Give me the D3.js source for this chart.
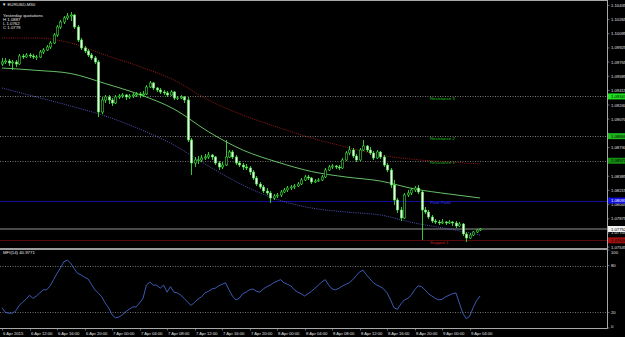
<!DOCTYPE html>
<html>
<head>
<meta charset="utf-8">
<script src="https://cdn.jsdelivr.net/npm/d3@7"></script>
<style>
  html, body { margin: 0; padding: 0; background: #000; }
  svg { display: block; font-family: "Liberation Sans", Arial, sans-serif; }
</style>
</head>
<body>
<div id="chart"></div>
<script>
// ---- data (EURUSD M30, 6 Apr 08:00 -> 9 Apr 05:30) ----
const symbol = "EURUSD,M30"
const firstBar = Date.UTC(2015, 3, 6, 8, 0)
const barMinutes = 30

const opens = [
  1.09732,1.09756,1.09768,1.09744,1.09756,1.09732,1.09828,1.09816,1.09840,1.09828,
  1.09816,1.09816,1.09876,1.09900,1.09936,1.09984,1.10080,1.10176,1.10236,1.10284,
  1.10308,1.10320,1.10176,1.10020,1.09924,1.09888,1.09840,1.09804,1.09756,1.09156,
  1.09300,1.09336,1.09300,1.09264,1.09336,1.09348,1.09360,1.09336,1.09348,1.09360,
  1.09372,1.09360,1.09372,1.09456,1.09504,1.09444,1.09420,1.09396,1.09384,1.09360,
  1.09396,1.09324,1.09324,1.09336,1.09300,1.08820,1.08544,1.08580,1.08580,1.08604,
  1.08616,1.08640,1.08616,1.08544,1.08496,1.08520,1.08616,1.08676,1.08616,1.08544,
  1.08520,1.08496,1.08484,1.08436,1.08364,1.08292,1.08256,1.08208,1.08184,1.08124,
  1.08148,1.08160,1.08196,1.08220,1.08244,1.08256,1.08268,1.08292,1.08340,1.08376,
  1.08364,1.08316,1.08328,1.08340,1.08376,1.08460,1.08496,1.08508,1.08496,1.08484,
  1.08580,1.08664,1.08700,1.08628,1.08580,1.08700,1.08748,1.08700,1.08664,1.08604,
  1.08676,1.08616,1.08520,1.08460,1.08280,1.08100,1.07980,1.07884,1.08160,1.08184,
  1.08220,1.08244,1.08196,1.07980,1.07956,1.07896,1.07848,1.07836,1.07824,1.07836,
  1.07824,1.07836,1.07824,1.07788,1.07812,1.07692,1.07644,1.07680,1.07716,1.07740]

const highs = [
  1.09804,1.09804,1.09792,1.09780,1.09780,1.09852,1.09852,1.09864,1.09864,1.09852,
  1.09840,1.09900,1.09924,1.09960,1.10008,1.10104,1.10200,1.10260,1.10308,1.10344,
  1.10356,1.10332,1.10200,1.10044,1.09948,1.09912,1.09864,1.09828,1.09780,1.09336,
  1.09360,1.09360,1.09324,1.09360,1.09372,1.09384,1.09372,1.09372,1.09384,1.09396,
  1.09396,1.09408,1.09480,1.09528,1.09516,1.09456,1.09444,1.09420,1.09408,1.09420,
  1.09408,1.09348,1.09360,1.09348,1.09336,1.08844,1.08616,1.08628,1.08640,1.08652,
  1.08676,1.08652,1.08628,1.08568,1.08556,1.08820,1.08700,1.08700,1.08640,1.08568,
  1.08544,1.08532,1.08508,1.08460,1.08388,1.08316,1.08280,1.08244,1.08208,1.08172,
  1.08184,1.08220,1.08244,1.08268,1.08280,1.08292,1.08316,1.08364,1.08400,1.08400,
  1.08376,1.08352,1.08364,1.08400,1.08484,1.08520,1.08532,1.08520,1.08520,1.08604,
  1.08688,1.08748,1.08724,1.08652,1.08724,1.08820,1.08760,1.08736,1.08688,1.08700,
  1.08688,1.08640,1.08544,1.08484,1.08340,1.08124,1.08016,1.08184,1.08220,1.08244,
  1.08268,1.08280,1.08220,1.08016,1.07980,1.07920,1.07872,1.07860,1.07872,1.07848,
  1.07860,1.07848,1.07848,1.07836,1.07824,1.07716,1.07704,1.07728,1.07752,1.07764]

const lows = [
  1.09708,1.09732,1.09708,1.09660,1.09696,1.09720,1.09792,1.09804,1.09804,1.09792,
  1.09780,1.09804,1.09852,1.09888,1.09912,1.09972,1.10056,1.10152,1.10212,1.10260,
  1.10248,1.10152,1.09996,1.09900,1.09864,1.09816,1.09780,1.09732,1.09096,1.09132,
  1.09264,1.09252,1.09228,1.09252,1.09312,1.09324,1.09300,1.09312,1.09324,1.09336,
  1.09324,1.09336,1.09360,1.09444,1.09420,1.09396,1.09372,1.09360,1.09336,1.09348,
  1.09300,1.09300,1.09312,1.09264,1.08796,1.08400,1.08496,1.08532,1.08556,1.08580,
  1.08592,1.08580,1.08520,1.08460,1.08472,1.08508,1.08604,1.08592,1.08520,1.08496,
  1.08460,1.08460,1.08400,1.08340,1.08268,1.08232,1.08184,1.08160,1.08064,1.08100,
  1.08124,1.08136,1.08184,1.08196,1.08220,1.08232,1.08256,1.08280,1.08328,1.08340,
  1.08292,1.08304,1.08316,1.08328,1.08364,1.08448,1.08472,1.08472,1.08460,1.08472,
  1.08568,1.08640,1.08604,1.08556,1.08568,1.08688,1.08676,1.08640,1.08580,1.08592,
  1.08592,1.08496,1.08436,1.08244,1.08040,1.07944,1.07848,1.07872,1.08136,1.08160,
  1.08196,1.08172,1.07620,1.07932,1.07872,1.07824,1.07812,1.07800,1.07812,1.07800,
  1.07812,1.07788,1.07764,1.07776,1.07668,1.07596,1.07632,1.07668,1.07704,1.07728]

const closes = [
  1.09756,1.09768,1.09744,1.09756,1.09732,1.09828,1.09816,1.09840,1.09828,1.09816,
  1.09816,1.09876,1.09900,1.09936,1.09984,1.10080,1.10176,1.10236,1.10284,1.10308,
  1.10320,1.10176,1.10020,1.09924,1.09888,1.09840,1.09804,1.09756,1.09156,1.09300,
  1.09336,1.09300,1.09264,1.09336,1.09348,1.09360,1.09336,1.09348,1.09360,1.09372,
  1.09360,1.09372,1.09456,1.09504,1.09444,1.09420,1.09396,1.09384,1.09360,1.09396,
  1.09324,1.09324,1.09336,1.09300,1.08820,1.08544,1.08580,1.08580,1.08604,1.08616,
  1.08640,1.08616,1.08544,1.08496,1.08520,1.08616,1.08676,1.08616,1.08544,1.08520,
  1.08496,1.08484,1.08436,1.08364,1.08292,1.08256,1.08208,1.08184,1.08124,1.08148,
  1.08160,1.08196,1.08220,1.08244,1.08256,1.08268,1.08292,1.08340,1.08376,1.08364,
  1.08316,1.08328,1.08340,1.08376,1.08460,1.08496,1.08508,1.08496,1.08484,1.08580,
  1.08664,1.08700,1.08628,1.08580,1.08700,1.08748,1.08700,1.08664,1.08604,1.08676,
  1.08616,1.08520,1.08460,1.08280,1.08100,1.07980,1.07884,1.08160,1.08184,1.08220,
  1.08244,1.08196,1.07980,1.07956,1.07896,1.07848,1.07836,1.07824,1.07836,1.07824,
  1.07836,1.07824,1.07788,1.07812,1.07692,1.07644,1.07680,1.07716,1.07740,1.07752]

// MFI(14), one value per bar
const mfi = [
  26,20,19,19,22,29,33,37,42,38,
  41,45,49,49,54,62,70,77,85,87,
  83,76,70,68,65,63,56,49,45,40,
  32,26,17,13,14,17,21,24,27,27,
  32,38,55,59,55,55,51,55,46,53,
  46,45,42,38,33,29,33,37,40,45,
  47,50,51,54,56,58,49,41,36,38,
  44,46,49,50,47,46,50,53,55,58,
  60,62,58,56,54,49,46,44,41,44,
  47,51,55,59,62,55,50,49,51,54,
  56,58,62,67,72,74,68,63,58,55,
  53,50,45,36,26,24,31,36,38,42,
  49,54,53,49,44,41,38,36,37,40,
  42,44,45,32,19,12,15,26,35,40.9771]

// moving averages, read every 10th bar (plus the last one)
const maBars  = [0, 10, 20, 30, 40, 50, 60, 70, 80, 90, 100, 110, 120, 130, 139]
const maFast  = [1.09684,1.09656,1.09618,1.09498,1.09366,1.09192,1.08920,1.08700,1.08556,1.08442,1.08376,1.08328,1.08232,1.08172,1.08124]
const maSlow  = [1.10044,1.10044,1.09984,1.09840,1.09702,1.09540,1.09300,1.09120,1.08976,1.08844,1.08736,1.08640,1.08586,1.08556,1.08532]
const maLow   = [1.09444,1.09336,1.09228,1.09108,1.08952,1.08760,1.08508,1.08280,1.08106,1.08004,1.07956,1.07920,1.07824,1.07752,1.07680]

// pivot levels from yesterday's quotes
const levelNames  = ["Resistance 3", "Resistance 2", "Resistance 1", "Pivot Point", "Support 1"]
const levelValues = [1.09343, 1.08866, 1.08571, 1.08093, 1.07616]
const quoteNames  = ["H", "L", "C"]
const quoteValues = [1.0887, 1.0762, 1.0779]

const priceTicks = [1.10435,1.10265,1.10095,1.09925,1.09755,1.09585,1.09415,1.09240,1.09070,
                    1.08900,1.08730,1.08555,1.08385,1.08215,1.08045,1.07875,1.07705,1.07535]
const mfiTicks = [100, 80, 20, 0]
const mfiLevels = [80, 20]

// ---- layout ----
const width = 625, height = 337
const plotRight = 607
const mainBottom = 248
const indTop = 250, indBottom = 328

const levelStyle = {
  "Resistance 3": { line: "#9a9a9a", dash: "1,1.5", text: "#19d219", tag: "#21e021", tagText: "#000" },
  "Resistance 2": { line: "#9a9a9a", dash: "1,1.5", text: "#19d219", tag: "#1fb81f", tagText: "#000" },
  "Resistance 1": { line: "#8a8a8a", dash: "1,1.5", text: "#19b819", tag: "#138f13", tagText: "#000" },
  "Pivot Point":  { line: "#1212c8", dash: null,    text: "#3a3aff", tag: "#1010e0", tagText: "#fff" },
  "Support 1":    { line: "#6e0c0c", dash: null,    text: "#c81e1e", tag: "#a01010", tagText: "#000" }
}

const bars = closes.map((c, i) => ({
  t: new Date(firstBar + i * barMinutes * 60000),
  o: opens[i], h: highs[i], l: lows[i], c: c, mfi: mfi[i]
}))
const barTime = i => new Date(firstBar + i * barMinutes * 60000)

const svg = d3.select('#chart').append('svg')
  .attr('width', width)
  .attr('height', height)

svg.append('rect').attr('width', width).attr('height', height).attr('fill', '#000')

const xScale = d3.scaleUtc()
  .domain([barTime(0), barTime(bars.length - 1)])
  .range([2, 480])

const yScale = d3.scaleLinear()
  .domain([1.105, 1.075])
  .range([0, 250])

const mfiScale = d3.scaleLinear()
  .domain([0, 100])
  .range([indBottom, indTop])

svg.append('clipPath').attr('id', 'main-clip')
  .append('rect').attr('x', 0).attr('y', 0).attr('width', plotRight).attr('height', mainBottom)

const main = svg.append('g').attr('clip-path', 'url(#main-clip)')

// level lines
levelNames.forEach((name, i) => {
  const st = levelStyle[name]
  const y = Math.round(yScale(levelValues[i])) + 0.5
  main.append('line')
    .attr('x1', 0).attr('x2', plotRight)
    .attr('y1', y).attr('y2', y)
    .attr('stroke', st.line)
    .attr('stroke-width', 0.8)
    .attr('stroke-dasharray', st.dash)
})

// current price line
const lastClose = closes[closes.length - 1]
main.append('line')
  .attr('x1', 0).attr('x2', plotRight)
  .attr('y1', yScale(lastClose)).attr('y2', yScale(lastClose))
  .attr('stroke', '#b8b8b8').attr('stroke-width', 0.8)

// moving averages
const maLine = d3.line()
  .x((d, i) => xScale(barTime(maBars[i])))
  .y(d => yScale(d))
  .curve(d3.curveMonotoneX)

main.append('path').datum(maSlow).attr('d', maLine)
  .attr('fill', 'none').attr('stroke', '#a8201c').attr('stroke-width', 0.9).attr('stroke-dasharray', '1,1.2')
main.append('path').datum(maLow).attr('d', maLine)
  .attr('fill', 'none').attr('stroke', '#5a5ad2').attr('stroke-width', 0.9).attr('stroke-dasharray', '1,1.2')
main.append('path').datum(maFast).attr('d', maLine)
  .attr('fill', 'none').attr('stroke', '#72d672').attr('stroke-width', 0.9)

// candles
const bodyW = 2.4
const candle = main.append('g').selectAll('g')
  .data(bars)
  .join('g')

candle.append('line')
  .attr('x1', d => Math.round(xScale(d.t)) + 0.5)
  .attr('x2', d => Math.round(xScale(d.t)) + 0.5)
  .attr('y1', d => yScale(d.h))
  .attr('y2', d => yScale(d.l))
  .attr('stroke', '#3cdc3c')
  .attr('stroke-width', 0.9)

candle.append('rect')
  .attr('x', d => Math.round(xScale(d.t)) + 0.5 - bodyW / 2)
  .attr('y', d => yScale(Math.max(d.o, d.c)))
  .attr('width', bodyW)
  .attr('height', d => Math.max(0.6, Math.abs(yScale(d.o) - yScale(d.c))))
  .attr('fill', d => d.c < d.o ? '#f4f4f4' : '#000')
  .attr('stroke', '#3cdc3c')
  .attr('stroke-width', 0.6)

// level text on the chart
levelNames.forEach((name, i) => {
  const st = levelStyle[name]
  main.append('text')
    .attr('x', 430)
    .attr('y', yScale(levelValues[i]) + 3.6)
    .attr('font-size', 4.3)
    .attr('fill', st.text)
    .text(name)
})

// legend
const legend = svg.append('g').attr('fill', '#e8e8e8').attr('font-size', 4.3)
legend.append('text').attr('x', 2).attr('y', 6).text('\u25BC ' + symbol)
legend.append('text').attr('x', 3).attr('y', 16.5).text('Yesterday quotations')
quoteNames.forEach((q, i) => {
  legend.append('text').attr('x', 3).attr('y', 20.5 + i * 4)
    .text(q + ' ' + d3.format('.4f')(quoteValues[i]))
})

// ---- MFI panel ----
const ind = svg.append('g')
mfiLevels.forEach(v => {
  ind.append('line')
    .attr('x1', 0).attr('x2', plotRight)
    .attr('y1', Math.round(mfiScale(v)) + 0.5).attr('y2', Math.round(mfiScale(v)) + 0.5)
    .attr('stroke', '#a0a0a0').attr('stroke-width', 0.7).attr('stroke-dasharray', '1,1.5')
})

const mfiLine = d3.line()
  .x(d => xScale(d.t))
  .y(d => mfiScale(d.mfi))

ind.append('path').datum(bars).attr('d', mfiLine)
  .attr('fill', 'none').attr('stroke', '#4a72e0').attr('stroke-width', 0.8)

ind.append('text').attr('x', 3).attr('y', indTop + 4.3)
  .attr('font-size', 4.3).attr('fill', '#e8e8e8')
  .text('MFI(14) ' + d3.format('.4f')(mfi[mfi.length - 1]))

// ---- frame ----
const frame = svg.append('g').attr('stroke', '#a8a8a8').attr('fill', 'none')
frame.append('line').attr('x1', 0).attr('x2', plotRight + 0.5).attr('y1', 0.5).attr('y2', 0.5)
frame.append('line').attr('x1', plotRight + 0.5).attr('x2', plotRight + 0.5).attr('y1', 0).attr('y2', indBottom + 0.5)
frame.append('line').attr('x1', 0).attr('x2', plotRight + 0.5).attr('y1', indBottom + 0.5).attr('y2', indBottom + 0.5)
svg.append('rect').attr('x', 0).attr('y', mainBottom).attr('width', plotRight + 1).attr('height', indTop - mainBottom)
  .attr('fill', '#9c9c9c')

// ---- price axis ----
// a tick label sitting right under a level tag is hidden by it, as in the terminal
const tagged = levelValues.concat([closes[closes.length - 1]])
const axisText = svg.append('g').attr('font-size', 4.2).attr('fill', '#e0e0e0')
priceTicks.forEach(p => {
  const y = yScale(p)
  svg.append('line').attr('x1', plotRight).attr('x2', plotRight + 2.5)
    .attr('y1', y).attr('y2', y).attr('stroke', '#a8a8a8').attr('stroke-width', 0.6)
  const covered = tagged.some(v => Math.abs(yScale(v) - y) < 3)
  if (!covered)
    axisText.append('text').attr('x', 611).attr('y', y + 1.5).text(d3.format('.5f')(p))
})

// tags for levels and current price
const tag = (price, bg, fg) => {
  const y = yScale(price)
  svg.append('rect').attr('x', plotRight + 1).attr('y', y - 3).attr('width', width - plotRight - 1).attr('height', 6)
    .attr('fill', bg)
  svg.append('text').attr('x', 611).attr('y', y + 1.6).attr('font-size', 4.2).attr('fill', fg)
    .text(d3.format('.5f')(price))
}
levelNames.forEach((name, i) => tag(levelValues[i], levelStyle[name].tag, levelStyle[name].tagText))
tag(lastClose, '#f0f0f0', '#000')

// MFI axis
const mfiText = svg.append('g').attr('font-size', 4.2).attr('fill', '#e0e0e0')
mfiTicks.forEach(v => {
  const y = mfiScale(v)
  svg.append('line').attr('x1', plotRight).attr('x2', plotRight + 2.5)
    .attr('y1', y).attr('y2', y).attr('stroke', '#a8a8a8').attr('stroke-width', 0.6)
  mfiText.append('text').attr('x', 611).attr('y', y + (v === 100 ? 3.5 : v === 0 ? -0.5 : 1.5)).text(v)
})

// ---- time axis ----
const timeTicks = d3.utcHour.every(4).range(barTime(0), new Date(+barTime(bars.length - 1) + 1))
const fmtTime = d3.utcFormat('%-d Apr %H:%M')
const timeAxis = svg.append('g').attr('font-size', 4.2).attr('fill', '#e0e0e0')
timeTicks.forEach((t, i) => {
  const x = Math.round(xScale(t)) + 0.5
  svg.append('line').attr('x1', x).attr('x2', x).attr('y1', indBottom).attr('y2', indBottom + 2.5)
    .attr('stroke', '#a8a8a8').attr('stroke-width', 0.6)
  timeAxis.append('text').attr('x', x + 0.5).attr('y', 335)
    .text(i === 0 ? d3.utcFormat('%-d Apr %Y')(t) : fmtTime(t))
})
</script>
</body>
</html>
